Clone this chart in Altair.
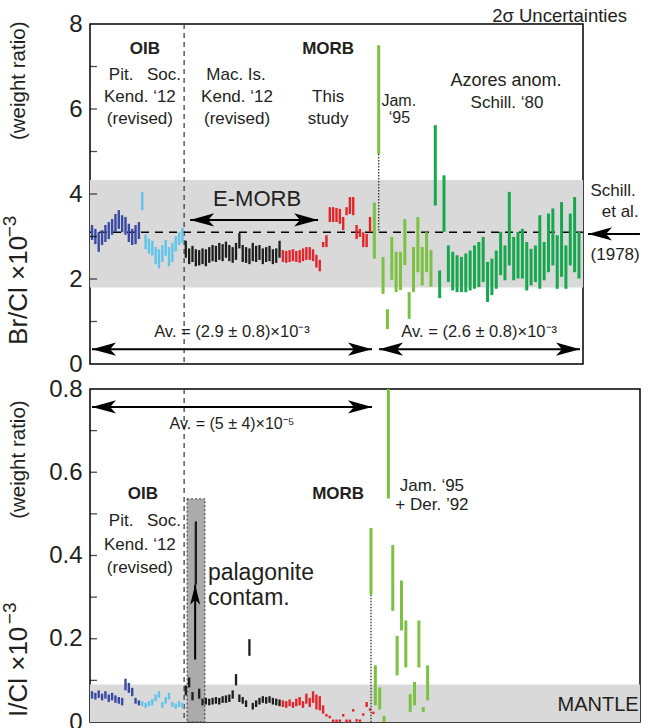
import altair as alt
import pandas as pd

FONT = "Liberation Sans"
INK = "#231f20"

# ---------------- Br/Cl (x10^-3) : lower / upper ends of 2-sigma bars ----------------
pit_br_lo = [2.92, 2.82, 2.64, 2.80, 2.87, 2.94, 3.04, 3.11, 3.18, 3.10, 3.04, 2.87, 2.80, 2.82, 2.94]
pit_br_hi = [3.27, 3.18, 3.10, 3.15, 3.27, 3.34, 3.41, 3.53, 3.62, 3.50, 3.46, 3.30, 3.18, 3.27, 3.34]
soc_br_lo = [3.62, 2.70, 2.60, 2.55, 2.35, 2.25, 2.40, 2.55, 2.30, 2.40, 2.65, 2.80, 2.85]
soc_br_hi = [4.05, 3.05, 2.95, 2.90, 2.75, 2.70, 2.80, 2.92, 2.75, 2.85, 3.00, 3.10, 3.20]
mac_br_lo = [2.50, 2.35, 2.40, 2.30, 2.32, 2.35, 2.30, 2.38, 2.42, 2.40, 2.45, 2.42, 2.50, 2.42, 2.38,
             2.45, 2.72, 2.40, 2.38, 2.35, 2.42, 2.40, 2.45, 2.35, 2.40, 2.42, 2.35, 2.38, 2.50]
mac_br_hi = [2.90, 2.72, 2.78, 2.70, 2.68, 2.72, 2.70, 2.75, 2.80, 2.78, 2.85, 2.82, 2.88, 2.80, 2.75,
             2.85, 3.08, 2.80, 2.75, 2.72, 2.85, 2.78, 2.80, 2.72, 2.75, 2.78, 2.70, 2.72, 2.90]
morb_br_lo = [2.40, 2.38, 2.40, 2.42, 2.40, 2.38, 2.42, 2.45, 2.45, 2.42, 2.27, 2.18,
              2.75, 2.75, 3.34, 3.34, 3.34, 3.30, 3.15, 3.50, 3.53, 3.50, 2.94, 2.99, 2.75, 2.75, 3.10]
morb_br_hi = [2.68, 2.66, 2.68, 2.70, 2.66, 2.68, 2.72, 2.75, 2.75, 2.70, 2.57, 2.45,
              2.87, 3.03, 3.69, 3.69, 3.67, 3.65, 3.46, 3.69, 3.93, 3.93, 3.27, 3.18, 3.10, 3.06, 3.46]
jam_br_lo = [2.48, 4.94, 1.65, 0.82, 1.98, 1.69, 1.74, 2.33, 1.06, 1.69, 2.16, 1.85, 2.16, 1.82]
jam_br_hi = [3.80, 7.50, 2.52, 1.29, 2.99, 2.64, 2.64, 3.41, 1.69, 2.75, 3.46, 2.75, 3.10, 2.68]
azo_br_lo = [3.73, 1.55, 3.11, 1.93, 1.73, 1.69, 1.69, 1.69, 1.73, 1.77, 1.81, 1.93, 1.46, 1.62, 1.77, 2.09, 1.97,
             2.32, 1.97, 2.01, 2.01, 1.73, 1.85, 1.93, 1.77, 1.97, 2.16, 2.32, 1.77, 2.05, 1.77, 2.32, 2.16, 2.01]
azo_br_hi = [5.62, 2.20, 4.44, 2.79, 2.64, 2.56, 2.52, 2.60, 2.67, 2.79, 2.87, 2.99, 2.40, 2.48, 2.67, 3.11, 2.79,
             4.05, 2.99, 3.11, 3.18, 2.87, 2.71, 2.79, 3.50, 2.87, 3.54, 3.66, 3.03, 3.81, 2.79, 3.54, 3.93, 3.11]
jam_br_dotted = {"index": 1, "to": 3.1}      # lower uncertainty of the tall Jam. '95 bar
br_band = [1.8, 4.33]                          # E-MORB range
br_schilling = 3.1                              # Schilling et al. (1978)

# ---------------- I/Cl (x10^-3) ----------------
pit_i_lo = [0.056, 0.054, 0.058, 0.052, 0.056, 0.048, 0.052, 0.046, 0.044, 0.040, 0.076, 0.070, 0.062, 0.044, 0.040]
pit_i_hi = [0.074, 0.070, 0.076, 0.068, 0.074, 0.066, 0.070, 0.064, 0.060, 0.058, 0.104, 0.094, 0.082, 0.058, 0.052]
soc_i_lo = [0.038, 0.034, 0.038, 0.040, 0.050, 0.058, 0.034, 0.044, 0.054, 0.036, 0.032, 0.036, 0.034]
soc_i_hi = [0.050, 0.046, 0.050, 0.055, 0.066, 0.074, 0.048, 0.060, 0.070, 0.048, 0.044, 0.050, 0.046]
mac_i_lo = [0.064, 0.083, 0.052, 0.330, 0.056, 0.040, 0.042, 0.040, 0.042, 0.044, 0.042, 0.046, 0.046, 0.048, 0.056,
            0.088, 0.048, 0.044, 0.036, 0.159, 0.030, 0.036, 0.042, 0.046, 0.044, 0.046, 0.042, 0.040, 0.038]
mac_i_hi = [0.088, 0.107, 0.072, 0.482, 0.080, 0.056, 0.058, 0.056, 0.058, 0.060, 0.058, 0.062, 0.064, 0.066, 0.076,
            0.115, 0.066, 0.060, 0.052, 0.199, 0.046, 0.052, 0.058, 0.062, 0.060, 0.062, 0.058, 0.056, 0.054]
morb_i_lo = [0.036, 0.034, 0.038, 0.034, 0.038, 0.040, 0.034, 0.044, 0.036, 0.046, 0.030, 0.028, 0.020,
             0.013, 0.009, 0.000, 0.000, 0.000, 0.013, 0.000, 0.000, 0.025, 0.001, 0.000, 0.015, 0.036, 0.027, 0.019]
morb_i_hi = [0.052, 0.050, 0.054, 0.048, 0.056, 0.060, 0.050, 0.068, 0.058, 0.074, 0.066, 0.062, 0.040,
             0.019, 0.015, 0.006, 0.006, 0.006, 0.019, 0.006, 0.006, 0.031, 0.007, 0.006, 0.021, 0.048, 0.033, 0.025]
jam_i_lo = [0.306, 0.040, 0.030, 0.000, 0.537, 0.267, 0.112, 0.220, 0.131, 0.024, 0.040, 0.131, 0.024, 0.052]
jam_i_hi = [0.466, 0.136, 0.083, 0.015, 0.800, 0.425, 0.207, 0.340, 0.244, 0.067, 0.096, 0.244, 0.036, 0.136]
jam_i_dotted = {"index": 0, "to": 0.0}
i_band = [0.0, 0.09]            # mantle range
palag_i = [0.0, 0.536]          # palagonite-contaminated range

# ---------------- styling / layout ----------------
COLORS = {"pit": "#3b4aa3", "soc": "#5fc3ec", "mac": "#1e1e1e", "morb": "#e3242b",
          "jam": "#7cc242", "azo": "#17a74f"}
BAR_W = {"pit": 2.4, "soc": 2.4, "mac": 2.3, "morb": 2.4, "jam": 3.0, "azo": 3.0}
TOP_W, TOP_H = 493, 340
BOT_W, BOT_H = 550, 333
SPP = 147.2 / 493  # slots per pixel
X_TOP = alt.Scale(domain=[-0.6, -0.6 + TOP_W * SPP], nice=False, zero=False)
X_BOT = alt.Scale(domain=[-0.6, -0.6 + BOT_W * SPP], nice=False, zero=False)
Y_TOP = alt.Scale(domain=[0, 8], nice=False, zero=False)
Y_BOT = alt.Scale(domain=[0, 0.8], nice=False, zero=False)
CSCALE = alt.Scale(domain=list(COLORS), range=list(COLORS.values()))

TOP_AXIS = alt.Axis(values=[0, 2, 4, 6, 8], title=None)
BOT_AXIS = alt.Axis(values=[0, 0.2, 0.4, 0.6, 0.8], title=None,
                    labelExpr="datum.value == 0 ? '0' : format(datum.value, '.1f')")

LEFT_HEAD = "M0,0 L2,-0.55 L1.5,0 L2,0.55 Z"
RIGHT_HEAD = "M0,0 L-2,-0.55 L-1.5,0 L-2,0.55 Z"
UP_HEAD = "M0,0 L-0.5,2 L0,1.5 L0.5,2 Z"
TITLE_X = -71     # axis-title column, px left of the plot


def series(groups):
    rows = []
    for grp, lo, hi, start, step in groups:
        for i, (a, b) in enumerate(zip(lo, hi)):
            rows.append({"grp": grp, "i": i, "x": start + i * step, "lo": a, "hi": b, "w": BAR_W[grp]})
    return pd.DataFrame(rows)


top_df = series([("pit", pit_br_lo, pit_br_hi, 0, 1), ("soc", soc_br_lo, soc_br_hi, 15, 1),
                 ("mac", mac_br_lo, mac_br_hi, 28, 1), ("morb", morb_br_lo, morb_br_hi, 57, 1),
                 ("jam", jam_br_lo, jam_br_hi, 84.3, 1.3), ("azo", azo_br_lo, azo_br_hi, 102.5, 1.3)])
bot_df = series([("pit", pit_i_lo, pit_i_hi, 0, 1), ("soc", soc_i_lo, soc_i_hi, 15, 1),
                 ("mac", mac_i_lo, mac_i_hi, 28, 1), ("morb", morb_i_lo, morb_i_hi, 57, 1),
                 ("jam", jam_i_lo, jam_i_hi, 83.3, 1.3)])

oib_morb_boundary = (top_df[top_df.grp == "soc"].x.max() + top_df[top_df.grp == "mac"].x.min()) / 2


def X(xs, f="x"):
    return alt.X(f"{f}:Q", scale=xs, axis=None)


def Y(ys, f="y"):
    axis = TOP_AXIS if ys is Y_TOP else BOT_AXIS
    return alt.Y(f"{f}:Q", scale=ys, axis=axis)


def bars(df, xs, ys):
    return alt.Chart(df).mark_rule().encode(
        x=X(xs), y=Y(ys, "lo"), y2="hi:Q",
        color=alt.Color("grp:N", scale=CSCALE, legend=None),
        strokeWidth=alt.StrokeWidth("w:Q", scale=None))


def band(lohi, xs, ys, w, color):
    return alt.Chart(pd.DataFrame({"a": [lohi[0]], "b": [lohi[1]]})).mark_rect(color=color).encode(
        x=alt.value(0), x2=alt.value(w), y=Y(ys, "a"), y2="b:Q")


def dotted(df, spec, ys, xs):
    row = df[(df.grp == "jam") & (df.i == spec["index"])].iloc[0]
    d = pd.DataFrame({"x": [row.x], "a": [row.lo], "b": [spec["to"]]})
    return alt.Chart(d).mark_rule(color="#333333", strokeWidth=1.3, strokeDash=[1.5, 1.5]).encode(
        x=X(xs), y=Y(ys, "a"), y2="b:Q")


def arrows(spec, xs, ys, size=576):
    d = pd.DataFrame(spec)
    shaft = alt.Chart(d).mark_rule(color="black", strokeWidth=2).encode(x=X(xs, "x1"), x2="x2:Q", y=Y(ys))
    lh = alt.Chart(d).mark_point(shape=LEFT_HEAD, size=size, filled=True, opacity=1, color="black",
                                 strokeWidth=0).encode(x=X(xs, "x1"), y=Y(ys))
    rd = d[d.both]
    rh = alt.Chart(rd).mark_point(shape=RIGHT_HEAD, size=size, filled=True, opacity=1, color="black",
                                  strokeWidth=0).encode(x=X(xs, "x2"), y=Y(ys))
    return [shaft, lh, rh]


def texts(rows, xs, ys, **kw):
    d = pd.DataFrame(rows, columns=["t", "x", "y"])
    base = dict(font=FONT, color=INK, fontSize=17, baseline="middle", align="center")
    base.update(kw)
    return alt.Chart(d).mark_text(**base).encode(x=X(xs), y=Y(ys), text="t:N")


def ytitle(parts, ys):
    """Rotated axis title pieces: (text, start value on the axis, font size, extra left shift)."""
    out = []
    for t, v, fs, dx in parts:
        out.append(alt.Chart(pd.DataFrame({"t": [t], "y": [v]})).mark_text(
            font=FONT, color=INK, fontSize=fs, angle=270, align="left", baseline="middle").encode(
            x=alt.value(TITLE_X - dx), y=Y(ys), text="t:N"))
    return out


def ticks(vals, ys):
    return alt.Chart(pd.DataFrame({"y": vals})).mark_tick(color="black", thickness=1.3, size=7).encode(
        x=alt.value(3.5), y=Y(ys))


# ---------------- top panel ----------------
top_layers = [
    band(br_band, X_TOP, Y_TOP, TOP_W, "#d9d9d9"),
    alt.Chart(pd.DataFrame({"x": [oib_morb_boundary]})).mark_rule(
        color="#333333", strokeWidth=1.2, strokeDash=[5, 4]).encode(x=X(X_TOP)),
    alt.Chart(pd.DataFrame({"y": [br_schilling]})).mark_rule(
        color="black", strokeWidth=1.6, strokeDash=[8, 6]).encode(y=Y(Y_TOP)),
    bars(top_df, X_TOP, Y_TOP),
    dotted(top_df, jam_br_dotted, Y_TOP, X_TOP),
    *arrows({"x1": [29.3, 0.0, 85.7, 148.1], "x2": [67.5, 83.6, 145.7, 163.6],
             "y": [3.39, 0.35, 0.35, 3.06], "both": [True, True, True, False]}, X_TOP, Y_TOP),
    texts([("OIB", 15.8, 7.41), ("MORB", 70.5, 7.41)], X_TOP, Y_TOP, fontWeight="bold"),
    texts([("Pit.", 8.7, 6.80), ("Soc.", 21.5, 6.80), ("Kend. ‘12", 14.3, 6.28), ("(revised)", 14.3, 5.76),
           ("Mac. Is.", 43.0, 6.80), ("Kend. ‘12", 43.3, 6.28), ("(revised)", 43.3, 5.76),
           ("This", 70.5, 6.28), ("study", 70.5, 5.76), ("Schill. ‘80", 123.9, 6.14),
           ("Schill.", 155.6, 4.07), ("et al.", 157.7, 3.58), ("(1978)", 156.2, 2.56)], X_TOP, Y_TOP),
    texts([("Azores anom.", 123.6, 6.66)], X_TOP, Y_TOP, fontSize=18),
    texts([("Jam.", 91.6, 6.18), ("‘95", 91.8, 5.80)], X_TOP, Y_TOP, fontSize=16),
    texts([("E-MORB", 49.3, 3.88)], X_TOP, Y_TOP, fontSize=22),
    texts([("Av. = (2.9 ± 0.8)×10⁻³", 41.8, 0.75), ("Av. = (2.6 ± 0.8)×10⁻³", 115.6, 0.75)],
          X_TOP, Y_TOP, fontSize=16.5),
    texts([("2σ Uncertainties", 139.6, 8.19)], X_TOP, Y_TOP, fontSize=18.5),
    *ytitle([("Br/Cl ×10", 0.45, 26, 0), ("−3", 2.98, 19, 9), ("(weight ratio)", 5.27, 20.5, 0)], Y_TOP),
    ticks([1, 2, 3, 4, 5, 6, 7], Y_TOP),
]
top = alt.layer(*top_layers).properties(width=TOP_W, height=TOP_H)

# ---------------- bottom panel ----------------
palag = alt.Chart(pd.DataFrame({"x1": [28.4], "x2": [33.7], "a": [palag_i[0]], "b": [palag_i[1]]})).mark_rect(
    fill="#ababab", stroke="#333333", strokeWidth=1, strokeDash=[2, 2]).encode(
    x=X(X_BOT, "x1"), x2="x2:Q", y=Y(Y_BOT, "a"), y2="b:Q")

up = pd.DataFrame({"x": [30.8], "a": [0.15], "b": [0.33]})
up_shaft = alt.Chart(up).mark_rule(color="black", strokeWidth=2).encode(x=X(X_BOT), y=Y(Y_BOT, "a"), y2="b:Q")
up_head = alt.Chart(up).mark_point(shape=UP_HEAD, size=400, filled=True, opacity=1, color="black",
                                   strokeWidth=0).encode(x=X(X_BOT), y=Y(Y_BOT, "b"))

bot_layers = [
    band(i_band, X_BOT, Y_BOT, BOT_W, "#d9d9d9"),
    palag,
    alt.Chart(pd.DataFrame({"x": [oib_morb_boundary]})).mark_rule(
        color="#333333", strokeWidth=1.2, strokeDash=[5, 4]).encode(x=X(X_BOT)),
    bars(bot_df, X_BOT, Y_BOT),
    dotted(bot_df, jam_i_dotted, Y_BOT, X_BOT),
    up_shaft, up_head,
    *arrows({"x1": [0.0], "x2": [83.6], "y": [0.757], "both": [True]}, X_BOT, Y_BOT),
    texts([("Av. = (5 ± 4)×10⁻⁵", 41.8, 0.716)], X_BOT, Y_BOT, fontSize=16),
    texts([("OIB", 15.2, 0.548), ("MORB", 73.5, 0.548)], X_BOT, Y_BOT, fontWeight="bold"),
    texts([("Pit.", 8.7, 0.483), ("Soc.", 21.5, 0.483), ("Kend. ‘12", 14.3, 0.425), ("(revised)", 14.3, 0.370),
           ("Jam. ‘95", 101.5, 0.567), ("+ Der. ’92", 101.5, 0.521)], X_BOT, Y_BOT),
    texts([("palagonite", 34.6, 0.358), ("contam.", 34.6, 0.298)], X_BOT, Y_BOT, fontSize=23, align="left"),
    texts([("MANTLE", 151.1, 0.041)], X_BOT, Y_BOT, fontSize=20),
    *ytitle([("I/Cl ×10", 0.012, 26, 0), ("−3", 0.235, 19, 9), ("(weight ratio)", 0.488, 20.5, 0)], Y_BOT),
    ticks([0.1, 0.2, 0.3, 0.4, 0.5, 0.6, 0.7], Y_BOT),
]
bottom = alt.layer(*bot_layers).properties(width=BOT_W, height=BOT_H)

chart = alt.vconcat(top, bottom, spacing=25, bounds="flush").properties(
    padding={"left": 0, "top": 6, "right": 0, "bottom": 0}
).configure_view(stroke="black", strokeWidth=1.5).configure_axis(
    labelFont=FONT, labelFontSize=24, labelColor=INK, domain=False, ticks=False, grid=False,
    labelPadding=8, labelFlush=False)

chart.save("out.html", embed_options={"renderer": "svg", "actions": False})
